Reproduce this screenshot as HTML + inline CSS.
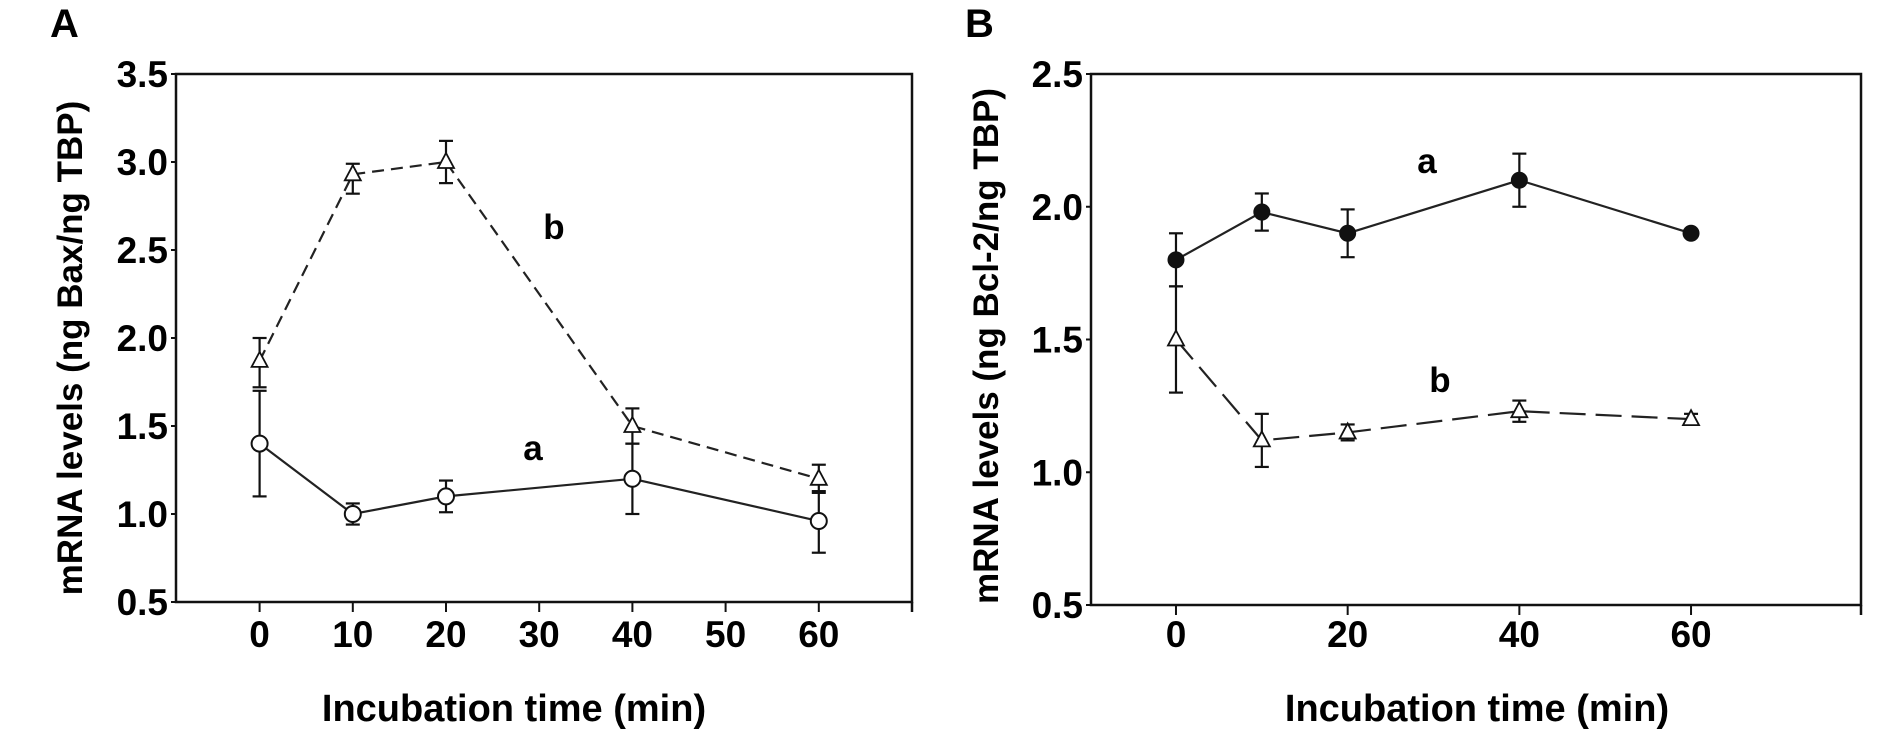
<!DOCTYPE html>
<html><head><meta charset="utf-8"><style>
html,body{margin:0;padding:0;background:#fff;}
svg{display:block;}
.tk{font-family:"Liberation Sans Narrow","Liberation Sans",sans-serif;font-weight:bold;font-size:37px;fill:#000;}
.ttl{font-family:"Liberation Sans",sans-serif;font-weight:bold;font-size:35px;fill:#000;}
.xt{font-family:"Liberation Sans Narrow","Liberation Sans",sans-serif;font-weight:bold;font-size:38px;fill:#000;}
</style></head><body>
<svg id="fig" width="1878" height="738" viewBox="0 0 1878 738" xmlns="http://www.w3.org/2000/svg"></svg>
<script>
// Panel A data
const timesA = [0, 10, 20, 40, 60];
const baxA = [1.4, 1.0, 1.1, 1.2, 0.96];
const baxAlo = [1.1, 0.94, 1.01, 1.0, 0.78];
const baxAhi = [1.7, 1.06, 1.19, 1.4, 1.13];
const baxB = [1.87, 2.93, 3.0, 1.5, 1.2];
const baxBlo = [1.72, 2.82, 2.88, 1.4, 1.12];
const baxBhi = [2.0, 2.99, 3.12, 1.6, 1.28];
const yTicksA = [0.5, 1.0, 1.5, 2.0, 2.5, 3.0, 3.5];
const xTicksA = [0, 10, 20, 30, 40, 50, 60];
// Panel B data
const timesB = [0, 10, 20, 40, 60];
const bclA = [1.8, 1.98, 1.9, 2.1, 1.9];
const bclAlo = [1.7, 1.91, 1.81, 2.0, 1.89];
const bclAhi = [1.9, 2.05, 1.99, 2.2, 1.91];
const bclB = [1.5, 1.12, 1.15, 1.23, 1.2];
const bclBlo = [1.3, 1.02, 1.12, 1.19, 1.18];
const bclBhi = [1.7, 1.22, 1.18, 1.27, 1.22];
const yTicksB = [0.5, 1.0, 1.5, 2.0, 2.5];
const xTicksB = [0, 20, 40, 60];

const NS = "http://www.w3.org/2000/svg";
const svg = document.getElementById('fig');
function mk(tag, attrs, parent) {
  const e = document.createElementNS(NS, tag);
  for (const k in attrs) e.setAttribute(k, attrs[k]);
  (parent || svg).appendChild(e);
  return e;
}
function txt(s, attrs, parent) { const t = mk('text', attrs, parent); t.textContent = s; return t; }

function panel(cfg) {
  const g = mk('g', {});
  
  
  const X = t => cfg.x0 + (t - cfg.xmin) / (cfg.xmax - cfg.xmin) * (cfg.x1 - cfg.x0);
  const Y = v => cfg.y1 - (v - cfg.ymin) / (cfg.ymax - cfg.ymin) * (cfg.y1 - cfg.y0);
  // frame
  const fr = mk('rect', {x: cfg.x0, y: cfg.y0, width: cfg.x1 - cfg.x0, height: cfg.y1 - cfg.y0, fill: 'none', stroke: '#111', 'stroke-width': 2.5}, g);
  
  
  mk('line', {x1: cfg.x1, y1: cfg.y1, x2: cfg.x1, y2: cfg.y1 + 10, stroke: '#111', 'stroke-width': 2.5}, g);
  // y ticks
  cfg.yt.forEach(v => {
    mk('line', {x1: cfg.x0 - 5, y1: Y(v), x2: cfg.x0, y2: Y(v), stroke: '#111', 'stroke-width': 2}, g);
    const t = txt(v.toFixed(1), {x: cfg.x0 - 8, y: Y(v) + 13, 'text-anchor': 'end', class: 'tk'}, g);
    
    
  });
  cfg.xt.forEach(v => {
    mk('line', {x1: X(v), y1: cfg.y1, x2: X(v), y2: cfg.y1 + 10, stroke: '#111', 'stroke-width': 2}, g);
    const t = txt(String(v), {x: X(v), y: 647, 'text-anchor': 'middle', class: 'tk'}, g);
    
    
  });
  // series
  cfg.series.forEach(s => {
    const sg = mk('g', {}, g);
    
    
    const pts = s.t.map((t, i) => X(t) + ',' + Y(s.v[i])).join(' ');
    mk('polyline', {points: pts, fill: 'none', stroke: '#222', 'stroke-width': 2.2, 'stroke-dasharray': s.dash || 'none'}, sg);
    s.t.forEach((t, i) => {
      const x = X(t);
      mk('line', {x1: x, y1: Y(s.lo[i]), x2: x, y2: Y(s.hi[i]), stroke: '#111', 'stroke-width': 2.2}, sg);
      [s.lo[i], s.hi[i]].forEach(v => mk('line', {x1: x - 7, y1: Y(v), x2: x + 7, y2: Y(v), stroke: '#111', 'stroke-width': 2.2}, sg));
      let m;
      const y = Y(s.v[i]);
      if (s.marker === 'tri') {
        m = mk('polygon', {points: `${x},${y - 9} ${x - 8},${y + 6} ${x + 8},${y + 6}`, fill: '#fff', stroke: '#111', 'stroke-width': 1.8}, sg);
      } else if (s.marker === 'fill') {
        m = mk('circle', {cx: x, cy: y, r: 8, fill: '#111', stroke: '#111'}, sg);
      } else {
        m = mk('circle', {cx: x, cy: y, r: 8, fill: '#fff', stroke: '#111', 'stroke-width': 2}, sg);
      }
      
      
    });
  });
  return {X, Y};
}

panel({name: 'panel-a-chart', x0: 176, x1: 912, y0: 74, y1: 602, xmin: -8.97, xmax: 70.0, ymin: 0.5, ymax: 3.5,
  yt: yTicksA, xt: xTicksA,
  series: [
    {name: 'series-a-bax', t: timesA, v: baxA, lo: baxAlo, hi: baxAhi, marker: 'circle'},
    {name: 'series-b-bax', t: timesA, v: baxB, lo: baxBlo, hi: baxBhi, marker: 'tri', dash: '12,7'}
  ]});
panel({name: 'panel-b-chart', x0: 1091, x1: 1861, y0: 74, y1: 605, xmin: -9.9, xmax: 79.8, ymin: 0.5, ymax: 2.5,
  yt: yTicksB, xt: xTicksB,
  series: [
    {name: 'series-a-bcl2', t: timesB, v: bclA, lo: bclAlo, hi: bclAhi, marker: 'fill'},
    {name: 'series-b-bcl2', t: timesB, v: bclB, lo: bclBlo, hi: bclBhi, marker: 'tri', dash: '26,10'}
  ]});

function label(s, x, y, cls, name, extra) {
  const t = txt(s, Object.assign({x: x, y: y, class: cls}, extra || {}));
  
  
  return t;
}
label('A', 50, 37, 'ttl', 'panel-a-letter', {style: 'font-size:40px'});
label('B', 965, 37, 'ttl', 'panel-b-letter', {style: 'font-size:40px'});
label('b', 554, 239, 'ttl', 'series-b-label-a', {'text-anchor': 'middle'});
label('a', 533, 460, 'ttl', 'series-a-label-a', {'text-anchor': 'middle'});
label('a', 1427, 173, 'ttl', 'series-a-label-b', {'text-anchor': 'middle'});
label('b', 1440, 392, 'ttl', 'series-b-label-b', {'text-anchor': 'middle'});
label('mRNA levels (ng Bax/ng TBP)', 0, 0, 'ttl', 'y-axis-title-a', {'text-anchor': 'middle', transform: 'translate(82,348) rotate(-90)'});
label('mRNA levels (ng  Bcl-2/ng TBP)', 0, 0, 'ttl', 'y-axis-title-b', {'text-anchor': 'middle', transform: 'translate(998,346) rotate(-90)'});
label('Incubation time (min)', 514, 721, 'xt', 'x-axis-title-a', {'text-anchor': 'middle'});
label('Incubation time (min)', 1477, 721, 'xt', 'x-axis-title-b', {'text-anchor': 'middle'});
</script>
</body></html>
